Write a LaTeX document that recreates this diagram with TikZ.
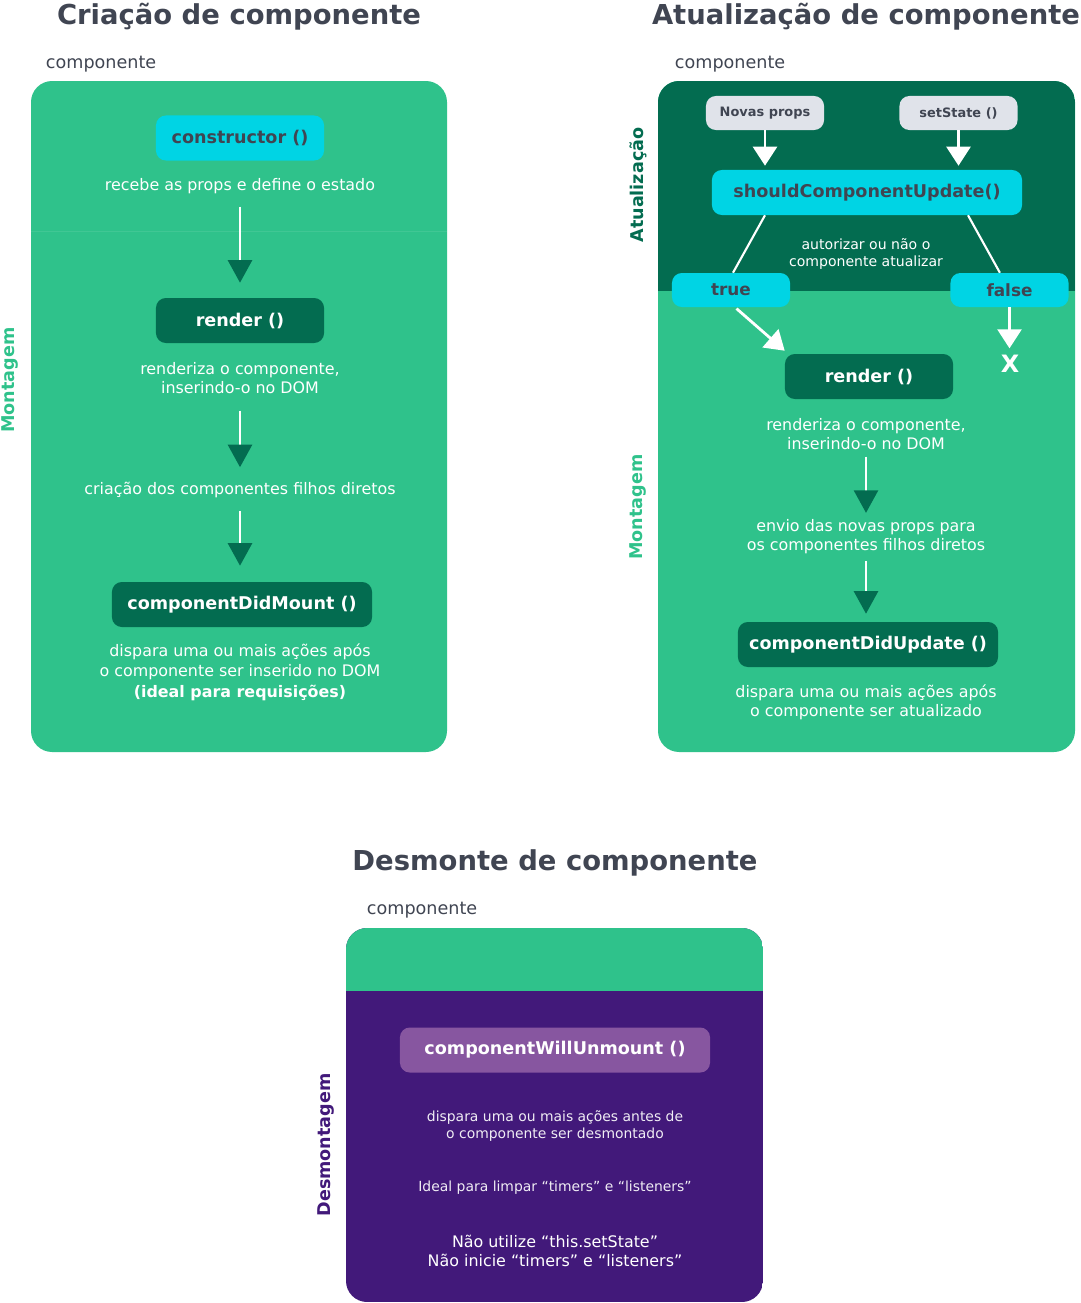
\documentclass[tikz,border=0pt]{standalone}
\usepackage{fontspec}
\setmainfont{DejaVu Sans}
\usetikzlibrary{arrows.meta}

\definecolor{verde}{RGB}{47,194,139}
\definecolor{verdeescuro}{RGB}{3,108,80}
\definecolor{ciano}{RGB}{0,212,228}
\definecolor{cinza}{RGB}{64,69,82}
\definecolor{cinzaclaro}{RGB}{224,227,234}
\definecolor{roxo}{RGB}{66,25,122}
\definecolor{lilas}{RGB}{135,86,160}

\tikzset{
  titulo/.style={text=cinza, anchor=base, font=\bfseries\fontsize{19.5}{23}\selectfont},
  rotulo/.style={text=cinza, anchor=base west, font=\fontsize{12.5}{15}\selectfont},
  fase/.style={rotate=90, font=\bfseries\fontsize{12.5}{15}\selectfont},
  caixa/.style={rounded corners=7pt, minimum height=1.125cm, inner sep=0pt, font=\bfseries\fontsize{12.5}{15}\selectfont},
  caixinha/.style={rounded corners=7pt, minimum height=0.85cm, minimum width=2.95cm, inner sep=0pt},
  texto/.style={text=white, align=center, font=\fontsize{11.3}{13.5}\selectfont},
  seta/.style={draw=white, line width=2pt, -{Triangle[width=17pt,length=16pt,color=verdeescuro]}},
  setab/.style={draw=white, line width=2pt, -{Triangle[width=17pt,length=13.5pt]}},
  linha/.style={draw=white, line width=1.5pt}
}

\begin{document}
\begin{tikzpicture}[x=0.025cm, y=-0.025cm]
\useasboundingbox (0,0) rectangle (1080,1303);

% Titulos
\node[titulo] (tcriacao) at (239,24) {Criação de componente};
\node[titulo] (tatualizacao) at (866,24) {Atualização de componente};
\node[titulo] (tdesmonte) at (555,870) {Desmonte de componente};
\node[rotulo] (compA) at (41,68) {componente};
\node[rotulo] (compB) at (670,68) {componente};
\node[rotulo] (compC) at (362,914) {componente};

% Criacao
\fill[verde, rounded corners=15pt] (31,81) rectangle (447,752);
\draw[verde!92!white, line width=0.6pt] (31,231) -- (447,231);
\node[fase, text=verde] (montagemA) at (10,380) {Montagem};

\node[caixa, fill=ciano, text=cinza, minimum width=4.2cm] (constructor) at (240,138) {constructor ()};
\node[texto] (recebe) at (240,186) {recebe as props e define o estado};
\node[caixa, fill=verdeescuro, text=white, minimum width=4.2cm] (renderA) at (240,320.5) {render ()};
\node[texto] (renderizaA) at (240,378) {renderiza o componente,\\inserindo-o no DOM};
\node[texto] (criacao) at (240,490) {criação dos componentes filhos diretos};
\node[caixa, fill=verdeescuro, text=white, minimum width=6.5cm] (didmount) at (242,604.5) {componentDidMount ()};
\node[texto, font=\fontsize{11.3}{14.5}\selectfont] (disparaA) at (240,672) {dispara uma ou mais ações após\\o componente ser inserido no DOM\\\textbf{(ideal para requisições)}};

\draw[seta, shorten <=0.2cm, shorten >=0.375cm] (recebe) -- (renderA);
\draw[seta, shorten <=0.3cm, shorten >=0.25cm] (renderizaA) -- (criacao);
\draw[seta, shorten <=0.2cm, shorten >=0.4cm] (criacao) -- (criacao |- didmount.north);

% Atualizacao
\fill[verde, rounded corners=15pt] (658,81) rectangle (1075,752);
\begin{scope}
\clip[rounded corners=15pt] (658,81) rectangle (1075,752);
\fill[verdeescuro] (658,81) rectangle (1075,291);
\end{scope}
\node[fase, text=verdeescuro] (atualizacao) at (638,185) {Atualização};
\node[fase, text=verde] (montagemB) at (638,507) {Montagem};

\node[caixinha, fill=cinzaclaro, text=cinza, font=\bfseries\fontsize{9.2}{11}\selectfont] (novas) at (765,113) {Novas props};
\node[caixinha, fill=cinzaclaro, text=cinza, font=\bfseries\fontsize{9.2}{11}\selectfont] (setstate) at (958.5,113) {setState ()};
\node[caixa, fill=ciano, text=cinza, minimum width=7.75cm] (should) at (867,192.5) {shouldComponentUpdate()};
\node[texto, font=\fontsize{10}{12}\selectfont] (autorizar) at (866,254) {autorizar ou não o\\componente atualizar};
\node[caixinha, fill=ciano, text=cinza, font=\bfseries\fontsize{12}{14}\selectfont] (true) at (731,290) {true};
\node[caixinha, fill=ciano, text=cinza, font=\bfseries\fontsize{12}{14}\selectfont] (false) at (1009.5,290) {false};
\node[text=white, font=\bfseries\fontsize{17}{20}\selectfont] (x) at (1010,364) {X};

\draw[setab, shorten >=0.1cm] (novas.south) -- (novas.south |- should.north);
\draw[setab, shorten >=0.1cm] (setstate.south) -- (setstate.south |- should.north);
\draw[linha] ([xshift=-2.55cm]should.south) -- ([xshift=0.05cm]true.north);
\draw[linha] ([xshift=2.525cm]should.south) -- ([xshift=-0.24cm]false.north);

\node[caixa, fill=verdeescuro, text=white, minimum width=4.2cm] (renderB) at (869,376.5) {render ()};
\node[texto] (renderizaB) at (866,434) {renderiza o componente,\\inserindo-o no DOM};
\node[texto] (envio) at (866,537) {envio das novas props para\\os componentes filhos diretos};
\node[caixa, fill=verdeescuro, text=white, minimum width=6.5cm] (didupdate) at (868,644.5) {componentDidUpdate ()};
\node[texto] (disparaB) at (866,702) {dispara uma ou mais ações após\\o componente ser atualizado};

\draw[setab, shorten <=0.05cm] ([xshift=0.1cm]true.south) -- ([yshift=0.075cm]renderB.north west);
\draw[setab, shorten >=0.05cm] (false.south) -- (false.south |- x.north);
\draw[seta, shorten <=0.05cm, shorten >=0.05cm] (renderizaB) -- (envio);
\draw[seta, shorten <=0.05cm, shorten >=0.2cm] (envio) -- (envio |- didupdate.north);

% Desmonte
\begin{scope}
\clip[rounded corners=15pt] (346,928) rectangle (763,1302);
\fill[roxo] (346,928) rectangle (763,1302);
\fill[verde] (346,928) rectangle (763,991);
\end{scope}
\node[fase, text=roxo] (desmontagem) at (326,1145) {Desmontagem};

\node[caixa, fill=lilas, text=white, minimum width=7.75cm] (willunmount) at (555,1050) {componentWillUnmount ()};
\node[texto, text=white!92!roxo, font=\fontsize{9.9}{12}\selectfont] (disparaC) at (555,1126) {dispara uma ou mais ações antes de\\o componente ser desmontado};
\node[texto, text=white!92!roxo, font=\fontsize{9.9}{12}\selectfont] (ideal) at (555,1188) {Ideal para limpar “timers” e “listeners”};
\node[texto, font=\fontsize{11.3}{13.5}\selectfont] (naoutilize) at (555,1251) {Não utilize “this.setState”\\Não inicie “timers” e “listeners”};

\end{tikzpicture}
\end{document}
